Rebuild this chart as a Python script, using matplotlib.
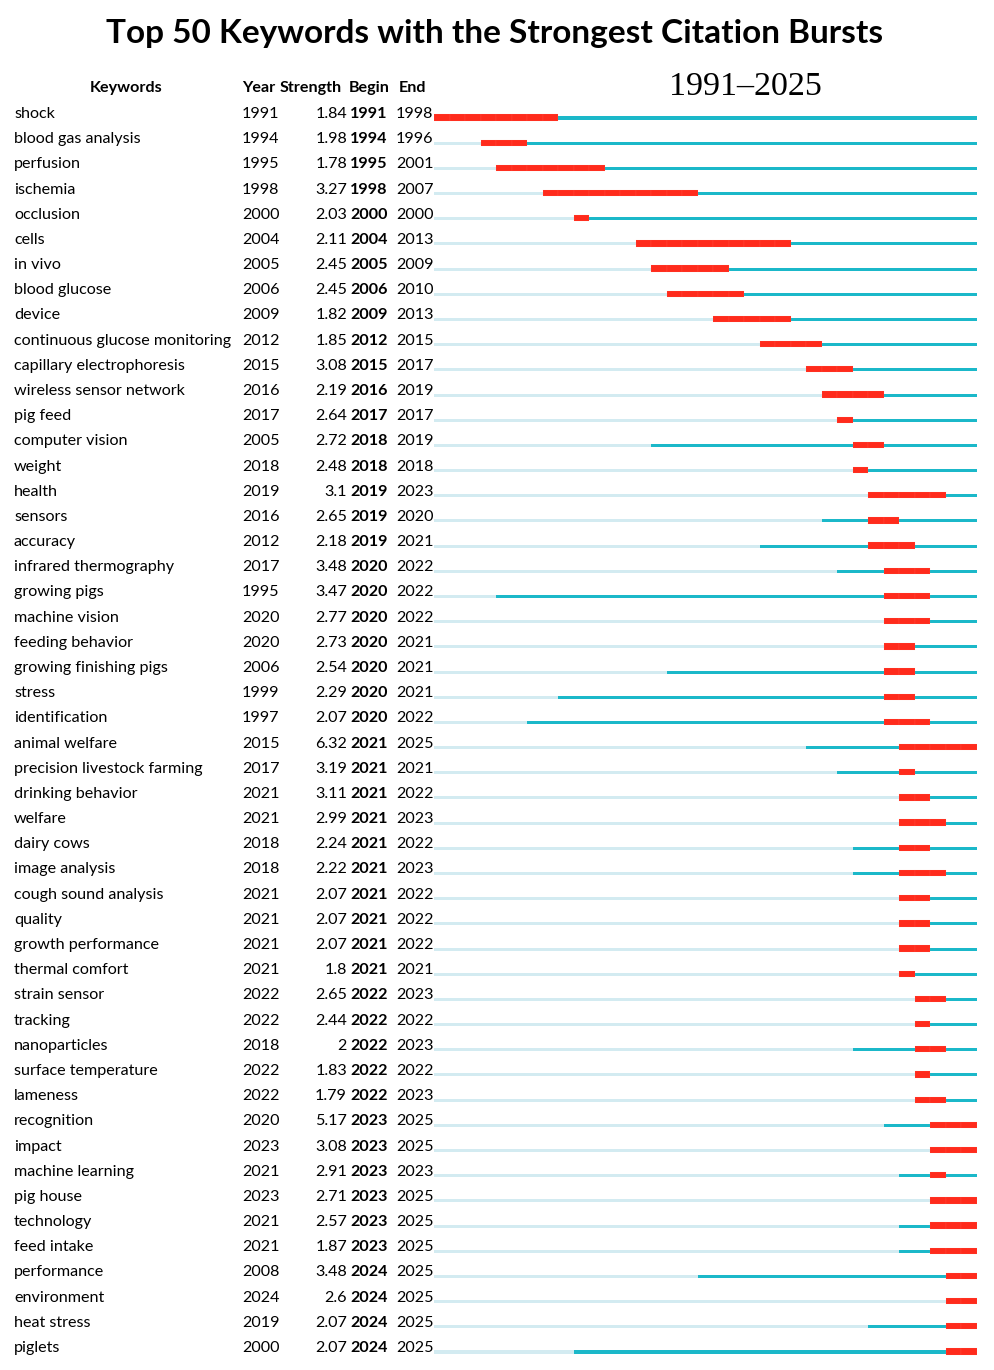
import matplotlib
matplotlib.use("Agg")
import matplotlib.pyplot as plt
import matplotlib.transforms as mtransforms

keywords = ["shock", "blood gas analysis", "perfusion", "ischemia", "occlusion", "cells", "in vivo",
            "blood glucose", "device", "continuous glucose monitoring", "capillary electrophoresis",
            "wireless sensor network", "pig feed", "computer vision", "weight", "health", "sensors",
            "accuracy", "infrared thermography", "growing pigs", "machine vision", "feeding behavior",
            "growing finishing pigs", "stress", "identification", "animal welfare",
            "precision livestock farming", "drinking behavior", "welfare", "dairy cows", "image analysis",
            "cough sound analysis", "quality", "growth performance", "thermal comfort", "strain sensor",
            "tracking", "nanoparticles", "surface temperature", "lameness", "recognition", "impact",
            "machine learning", "pig house", "technology", "feed intake", "performance", "environment",
            "heat stress", "piglets"]
years = [1991, 1994, 1995, 1998, 2000, 2004, 2005, 2006, 2009, 2012, 2015, 2016, 2017, 2005, 2018,
         2019, 2016, 2012, 2017, 1995, 2020, 2020, 2006, 1999, 1997, 2015, 2017, 2021, 2021, 2018,
         2018, 2021, 2021, 2021, 2021, 2022, 2022, 2018, 2022, 2022, 2020, 2023, 2021, 2023, 2021,
         2021, 2008, 2024, 2019, 2000]
strengths = [1.84, 1.98, 1.78, 3.27, 2.03, 2.11, 2.45, 2.45, 1.82, 1.85, 3.08, 2.19, 2.64, 2.72, 2.48,
             3.1, 2.65, 2.18, 3.48, 3.47, 2.77, 2.73, 2.54, 2.29, 2.07, 6.32, 3.19, 3.11, 2.99, 2.24,
             2.22, 2.07, 2.07, 2.07, 1.8, 2.65, 2.44, 2.0, 1.83, 1.79, 5.17, 3.08, 2.91, 2.71, 2.57,
             1.87, 3.48, 2.6, 2.07, 2.07]
begins = [1991, 1994, 1995, 1998, 2000, 2004, 2005, 2006, 2009, 2012, 2015, 2016, 2017, 2018, 2018,
          2019, 2019, 2019, 2020, 2020, 2020, 2020, 2020, 2020, 2020, 2021, 2021, 2021, 2021, 2021,
          2021, 2021, 2021, 2021, 2021, 2022, 2022, 2022, 2022, 2022, 2023, 2023, 2023, 2023, 2023,
          2023, 2024, 2024, 2024, 2024]
ends = [1998, 1996, 2001, 2007, 2000, 2013, 2009, 2010, 2013, 2015, 2017, 2019, 2017, 2019, 2018,
        2023, 2020, 2021, 2022, 2022, 2022, 2021, 2021, 2021, 2022, 2025, 2021, 2022, 2023, 2022,
        2023, 2022, 2022, 2022, 2021, 2023, 2022, 2023, 2022, 2023, 2025, 2025, 2023, 2025, 2025,
        2025, 2025, 2025, 2025, 2025]
start_year, end_year = 1991, 2025
headers = ["Keywords", "Year", "Strength", "Begin", "End"]
title = "Top 50 Keywords with the Strongest Citation Bursts"

W, H = 994, 1370
FONT = "Lato"
RED = "#ff2b1c"
TEAL = "#1bb8c9"
LIGHT = "#d3ebf1"

fig = plt.figure(figsize=(W / 100, H / 100), dpi=100)
fig.patch.set_facecolor("white")

n = len(keywords)
row0_px, rowN_px = 117.5, 1351.5
step = (rowN_px - row0_px) / (n - 1)
top_px = row0_px - step / 2
bot_px = rowN_px + step / 2
left_px, right_px = 434, 977
ax = fig.add_axes([left_px / W, 1 - bot_px / H, (right_px - left_px) / W, (bot_px - top_px) / H])
ax.set_xlim(start_year, end_year + 1)
ax.set_ylim(n - 0.5, -0.5)
ax.axis("off")

line_h = 0.12
red_h = 0.25
for i in range(n):
    y = i
    if years[i] > start_year:
        ax.barh(y + 0.02, years[i] - start_year, left=start_year, height=line_h, color=LIGHT, lw=0)
    ax.barh(y + 0.02, end_year + 1 - years[i], left=years[i], height=line_h, color=TEAL, lw=0)
    for yr in range(begins[i], ends[i] + 1):
        ax.barh(y, 1, left=yr, height=red_h, color=RED, edgecolor=(1, 0.65, 0.6, 0.18), lw=0.35)

tr = mtransforms.blended_transform_factory(fig.transFigure, ax.transData)
dy = -0.14
fs = 11.6
for i in range(n):
    y = i + dy
    ax.text(14 / W, y, keywords[i], transform=tr, family=FONT, fontsize=fs, va="center", ha="left")
    ax.text(242 / W, y, str(years[i]), transform=tr, family=FONT, fontsize=fs, va="center", ha="left")
    ax.text(347 / W, y, f"{strengths[i]:g}", transform=tr, family=FONT, fontsize=fs, va="center", ha="right")
    ax.text(350 / W, y, str(begins[i]), transform=tr, family=FONT, fontsize=fs, va="center", ha="left",
            weight="bold")
    ax.text(396 / W, y, str(ends[i]), transform=tr, family=FONT, fontsize=fs, va="center", ha="left")

hy = 1 - 88 / H
fig.text(126 / W, hy, headers[0], family=FONT, fontsize=fs, weight="bold", ha="center", va="center")
fig.text(242 / W, hy, headers[1], family=FONT, fontsize=fs, weight="bold", ha="left", va="center")
fig.text(280 / W, hy, headers[2], family=FONT, fontsize=fs, weight="bold", ha="left", va="center")
fig.text(349 / W, hy, headers[3], family=FONT, fontsize=fs, weight="bold", ha="left", va="center")
fig.text(399 / W, hy, headers[4], family=FONT, fontsize=fs, weight="bold", ha="left", va="center")

fig.text(745 / W, 1 - 87 / H, f"{start_year}\u2013{end_year}", family="Liberation Serif", fontsize=24.5,
         ha="center", va="center")
fig.text(495 / W, 1 - 33 / H, title, family=FONT, fontsize=24, weight="bold", ha="center", va="center")

fig.savefig("out.png", dpi=100)
